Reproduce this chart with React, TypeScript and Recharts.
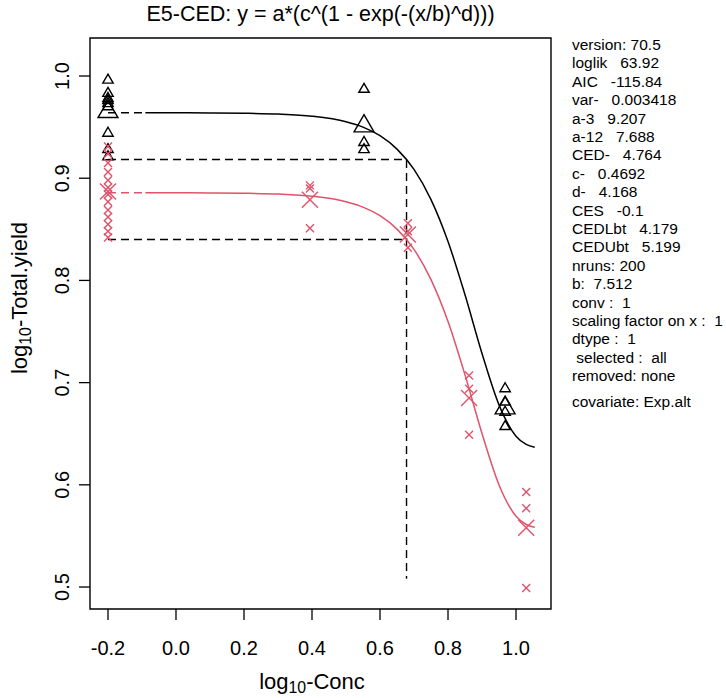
import { ComposedChart, Line, ReferenceArea, Scatter, XAxis, YAxis } from "recharts";

const X_MIN = -0.2529;
const X_MAX = 1.1029;
const Y_MIN = 0.4785;
const Y_MAX = 1.0372;
const X_TICKS = [-0.2, 0, 0.2, 0.4, 0.6, 0.8, 1.0];
const Y_TICKS = [0.5, 0.6, 0.7, 0.8, 0.9, 1.0];

const RED = "#DF536B";

// observations, group a-3 (black triangles)
const BLACK_OBS_X = [-0.2, -0.2, -0.2, -0.2, -0.2, -0.2, -0.2, -0.2, -0.2, 0.553, 0.553, 0.553, 0.968, 0.968, 0.968, 0.968];
const BLACK_OBS_Y = [0.996, 0.983, 0.978, 0.976, 0.973, 0.97, 0.944, 0.928, 0.921, 0.987, 0.935, 0.928, 0.694, 0.681, 0.671, 0.657];
const BLACK_MEAN_X = [-0.2, 0.553, 0.968];
const BLACK_MEAN_Y = [0.965, 0.951, 0.675];

// observations, group a-12 (red crosses)
const RED_OBS_X = [-0.2, -0.2, -0.2, -0.2, -0.2, -0.2, -0.2, -0.2, -0.2, -0.2, -0.2, -0.2, -0.2, 0.394, 0.394, 0.394, 0.682, 0.682, 0.682, 0.862, 0.862, 0.862, 1.03, 1.03, 1.03];
const RED_OBS_Y = [0.931, 0.924, 0.915, 0.906, 0.898, 0.891, 0.884, 0.877, 0.869, 0.862, 0.855, 0.848, 0.842, 0.893, 0.89, 0.851, 0.856, 0.848, 0.832, 0.707, 0.694, 0.649, 0.593, 0.577, 0.499];
const RED_MEAN_X = [-0.2, 0.394, 0.682, 0.862, 1.03];
const RED_MEAN_Y = [0.887, 0.879, 0.845, 0.685, 0.558];

// fitted curves
const CURVE_X = [-0.09, 0, 0.1, 0.2, 0.3, 0.4, 0.5, 0.55, 0.6, 0.65, 0.7, 0.75, 0.8, 0.85, 0.9, 0.95, 1.0, 1.03, 1.055];
const BLACK_CURVE_Y = [0.9641, 0.964, 0.9639, 0.9636, 0.9628, 0.9607, 0.9553, 0.95, 0.9416, 0.9285, 0.9086, 0.8791, 0.8381, 0.7859, 0.7285, 0.6782, 0.6476, 0.6395, 0.6367];
const RED_CURVE_Y = [0.8858, 0.8857, 0.8856, 0.8853, 0.8845, 0.8824, 0.877, 0.8717, 0.8633, 0.8502, 0.8303, 0.8008, 0.7598, 0.7076, 0.6502, 0.5999, 0.5693, 0.5612, 0.5584];

// dashed pieces: curve at zero dose, CED guide lines
const BLACK_ZERO_X = [-0.2, -0.09];
const BLACK_ZERO_Y = [0.9641, 0.9641];
const RED_ZERO_X = [-0.2, -0.09];
const RED_ZERO_Y = [0.8858, 0.8858];
const CED_BLACK_X = [-0.2, 0.678, 0.678];
const CED_BLACK_Y = [0.9183, 0.9183, 0.508];
const CED_RED_X = [-0.2, 0.678];
const CED_RED_Y = [0.84, 0.84];

const INFO_LINES = [
  "version: 70.5",
  "loglik   63.92",
  "AIC   -115.84",
  "var-   0.003418",
  "a-3   9.207",
  "a-12   7.688",
  "CED-   4.764",
  "c-   0.4692",
  "d-   4.168",
  "CES   -0.1",
  "CEDLbt   4.179",
  "CEDUbt   5.199",
  "nruns: 200",
  "b:  7.512",
  "conv :  1",
  "scaling factor on x :  1",
  "dtype :  1",
  " selected :  all",
  "removed: none",
];
const COVARIATE = "covariate: Exp.alt";

const zip = (xs: number[], ys: number[]) => xs.map((x, i) => ({ x, y: ys[i] }));

const FONT = "'Liberation Sans', Arial, sans-serif";

function Triangle({ cx, cy, r }: { cx?: number; cy?: number; r: number }) {
  if (cx == null || cy == null) return null;
  const xc = r * 0.866;
  const pts = `${cx},${cy - r} ${cx + xc},${cy + r / 2} ${cx - xc},${cy + r / 2}`;
  return <polygon points={pts} fill="none" stroke="#000" strokeWidth={1.4} />;
}

function Cross({ cx, cy, s }: { cx?: number; cy?: number; s: number }) {
  if (cx == null || cy == null) return null;
  return (
    <g stroke={RED} strokeWidth={1.4}>
      <line x1={cx - s} y1={cy - s} x2={cx + s} y2={cy + s} />
      <line x1={cx - s} y1={cy + s} x2={cx + s} y2={cy - s} />
    </g>
  );
}

function XTick(props: any) {
  return (
    <text x={props.x} y={655} textAnchor="middle" fontSize={20} fontFamily={FONT} fill="#000">
      {Number(props.payload.value).toFixed(1)}
    </text>
  );
}

function YTick(props: any) {
  return (
    <text
      x={69}
      y={props.y}
      transform={`rotate(-90, 69, ${props.y})`}
      textAnchor="middle"
      fontSize={20}
      fontFamily={FONT}
      fill="#000"
    >
      {Number(props.payload.value).toFixed(1)}
    </text>
  );
}

const sub = { fontSize: "0.72em", verticalAlign: "-0.25em" };

export default function App() {
  return (
    <div style={{ position: "absolute", left: 0, top: 0, width: 726, height: 698, background: "#fff", fontFamily: FONT }}>
      <ComposedChart width={726} height={698} margin={{ top: 38, right: 175, bottom: 0, left: 0 }}>
        <XAxis
          type="number"
          dataKey="x"
          domain={[X_MIN, X_MAX]}
          ticks={X_TICKS}
          interval={0}
          allowDataOverflow
          axisLine={false}
          tickLine={{ stroke: "#000", strokeWidth: 1.3 }}
          tickSize={11}
          height={89}
          tick={<XTick />}
        />
        <YAxis
          type="number"
          dataKey="y"
          domain={[Y_MIN, Y_MAX]}
          ticks={Y_TICKS}
          interval={0}
          allowDataOverflow
          axisLine={false}
          tickLine={{ stroke: "#000", strokeWidth: 1.3 }}
          tickSize={11}
          width={90}
          tick={<YTick />}
        />
        <ReferenceArea x1={X_MIN} x2={X_MAX} y1={Y_MIN} y2={Y_MAX} fill="none" stroke="#000" strokeWidth={1.4} fillOpacity={0} />
        <Line data={zip(CED_BLACK_X, CED_BLACK_Y)} dataKey="y" type="linear" stroke="#000" strokeWidth={1.4} strokeDasharray="8 5" dot={false} isAnimationActive={false} />
        <Line data={zip(CED_RED_X, CED_RED_Y)} dataKey="y" type="linear" stroke="#000" strokeWidth={1.4} strokeDasharray="8 5" dot={false} isAnimationActive={false} />
        <Line data={zip(BLACK_ZERO_X, BLACK_ZERO_Y)} dataKey="y" type="linear" stroke="#000" strokeWidth={1.4} strokeDasharray="8 5" dot={false} isAnimationActive={false} />
        <Line data={zip(RED_ZERO_X, RED_ZERO_Y)} dataKey="y" type="linear" stroke={RED} strokeWidth={1.4} strokeDasharray="8 5" dot={false} isAnimationActive={false} />
        <Line data={zip(CURVE_X, BLACK_CURVE_Y)} dataKey="y" type="monotone" stroke="#000" strokeWidth={1.5} dot={false} isAnimationActive={false} />
        <Line data={zip(CURVE_X, RED_CURVE_Y)} dataKey="y" type="monotone" stroke={RED} strokeWidth={1.5} dot={false} isAnimationActive={false} />
        <Scatter data={zip(BLACK_OBS_X, BLACK_OBS_Y)} shape={(p: any) => <Triangle cx={p.cx} cy={p.cy} r={6} />} isAnimationActive={false} />
        <Scatter data={zip(BLACK_MEAN_X, BLACK_MEAN_Y)} shape={(p: any) => <Triangle cx={p.cx} cy={p.cy} r={11.5} />} isAnimationActive={false} />
        <Scatter data={zip(RED_OBS_X, RED_OBS_Y)} shape={(p: any) => <Cross cx={p.cx} cy={p.cy} s={4} />} isAnimationActive={false} />
        <Scatter data={zip(RED_MEAN_X, RED_MEAN_Y)} shape={(p: any) => <Cross cx={p.cx} cy={p.cy} s={8} />} isAnimationActive={false} />
      </ComposedChart>

      <div style={{ position: "absolute", left: 90, width: 461, top: 2, textAlign: "center", fontSize: 21.5, whiteSpace: "pre" }}>
        {"E5-CED: y = a*(c^(1 - exp(-(x/b)^d)))"}
      </div>

      <div style={{ position: "absolute", left: 90, width: 444, top: 669, textAlign: "center", fontSize: 22 }}>
        log<span style={sub}>10</span>-Conc
      </div>

      <div
        style={{
          position: "absolute",
          left: 20 - 150,
          top: 298 - 12,
          width: 300,
          height: 24,
          lineHeight: "24px",
          textAlign: "center",
          fontSize: 22,
          transform: "rotate(-90deg)",
        }}
      >
        log<span style={sub}>10</span>-Total.yield
      </div>

      {INFO_LINES.map((line, i) => (
        <div
          key={i}
          style={{ position: "absolute", left: 572, top: 45 + 18.4 * i - 9, lineHeight: "18px", fontSize: 15.5, whiteSpace: "pre" }}
        >
          {line}
        </div>
      ))}
      <div style={{ position: "absolute", left: 572, top: 402 - 9, lineHeight: "18px", fontSize: 15.5, whiteSpace: "pre" }}>
        {COVARIATE}
      </div>
    </div>
  );
}
